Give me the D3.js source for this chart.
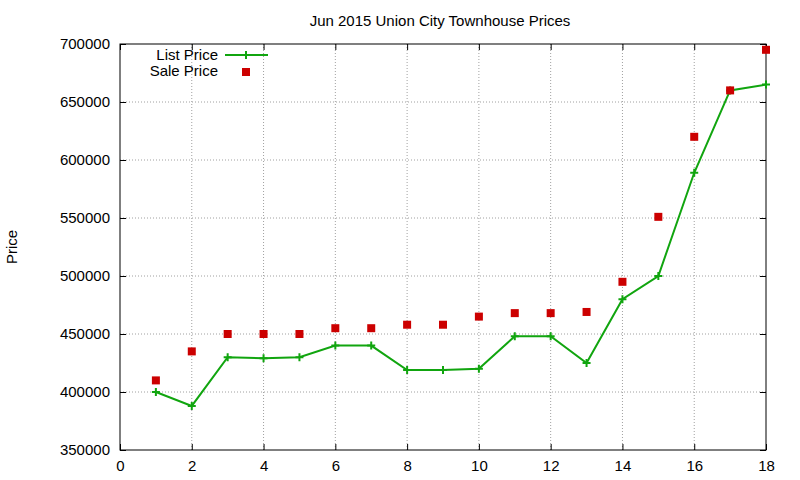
<!DOCTYPE html>
<html><head><meta charset="utf-8">
<script src="https://cdn.jsdelivr.net/npm/d3@7"></script>
<style>body{margin:0;background:#fff}text{font-family:"Liberation Sans",Arial,sans-serif}</style>
</head><body><svg id="c" width="800" height="480"></svg>
<script>
const idx=[1,2,3,4,5,6,7,8,9,10,11,12,13,14,15,16,17,18];
const listPrice=[400000,388000,430000,429000,430000,440000,440000,419000,419000,420000,448000,448000,425000,480000,500000,589000,660000,665000];
const salePrice=[410000,435000,450000,450000,450000,455000,455000,458000,458000,465000,468000,468000,469000,495000,551000,620000,660000,695000];
const xTicks=[0,2,4,6,8,10,12,14,16,18];
const yTicks=[350000,400000,450000,500000,550000,600000,650000,700000];
const svg=d3.select("#c");
const L=120,R=766,T=44,B=450;
const x=d3.scaleLinear().domain([0,18]).range([L,R]);
const y=d3.scaleLinear().domain([350000,700000]).range([B,T]);
const g=svg.append("g");
xTicks.forEach(t=>{if(t>0&&t<18)g.append("line").attr("x1",x(t)).attr("x2",x(t)).attr("y1",T).attr("y2",B).attr("stroke","#a0a0a0").attr("stroke-dasharray","1,2");});
yTicks.forEach(t=>{if(t>350000&&t<700000)g.append("line").attr("x1",L).attr("x2",R).attr("y1",y(t)).attr("y2",y(t)).attr("stroke","#a0a0a0").attr("stroke-dasharray","1,2");});
svg.append("g").attr("transform",`translate(0,${B})`).call(d3.axisBottom(x).tickValues(xTicks).tickSize(-6).tickPadding(10)).call(a=>{a.select(".domain").remove();a.selectAll("text").attr("font-size",15).attr("fill","#000");});
svg.append("g").attr("transform",`translate(0,${T})`).call(d3.axisTop(x).tickValues(xTicks).tickSize(-6).tickFormat("")).call(a=>a.select(".domain").remove());
svg.append("g").attr("transform",`translate(${L},0)`).call(d3.axisLeft(y).tickValues(yTicks).tickSize(-6).tickPadding(10).tickFormat(d3.format("d"))).call(a=>{a.select(".domain").remove();a.selectAll("text").attr("font-size",15).attr("fill","#000");});
svg.append("g").attr("transform",`translate(${R},0)`).call(d3.axisRight(y).tickValues(yTicks).tickSize(-6).tickFormat("")).call(a=>a.select(".domain").remove());
svg.append("rect").attr("x",L).attr("y",T).attr("width",R-L).attr("height",B-T).attr("fill","none").attr("stroke","#000");
svg.append("text").attr("x",440).attr("y",26).attr("text-anchor","middle").attr("font-size",15).text("Jun 2015 Union City Townhouse Prices");
svg.append("text").attr("transform","translate(17,247) rotate(-90)").attr("text-anchor","middle").attr("font-size",15).text("Price");
const green="#11a50f",red="#cc0000";
const line=d3.line().x((d,i)=>x(idx[i])).y(d=>y(d));
svg.append("path").datum(listPrice).attr("d",line).attr("fill","none").attr("stroke",green).attr("stroke-width",2);
const plus=(sel,cx,cy)=>sel.append("path").attr("d",`M${cx-4},${cy}H${cx+4}M${cx},${cy-4}V${cy+4}`).attr("stroke",green).attr("stroke-width",2);
listPrice.forEach((v,i)=>plus(svg,x(idx[i]),y(v)));
salePrice.forEach((v,i)=>svg.append("rect").attr("x",x(idx[i])-4).attr("y",y(v)-4).attr("width",8).attr("height",8).attr("fill",red));
svg.append("text").attr("x",218).attr("y",60).attr("text-anchor","end").attr("font-size",15).text("List Price");
svg.append("line").attr("x1",225).attr("x2",268).attr("y1",55).attr("y2",55).attr("stroke",green).attr("stroke-width",2);
plus(svg,246,55);
svg.append("text").attr("x",218).attr("y",76).attr("text-anchor","end").attr("font-size",15).text("Sale Price");
svg.append("rect").attr("x",242).attr("y",68).attr("width",8).attr("height",8).attr("fill",red);
</script></body></html>
